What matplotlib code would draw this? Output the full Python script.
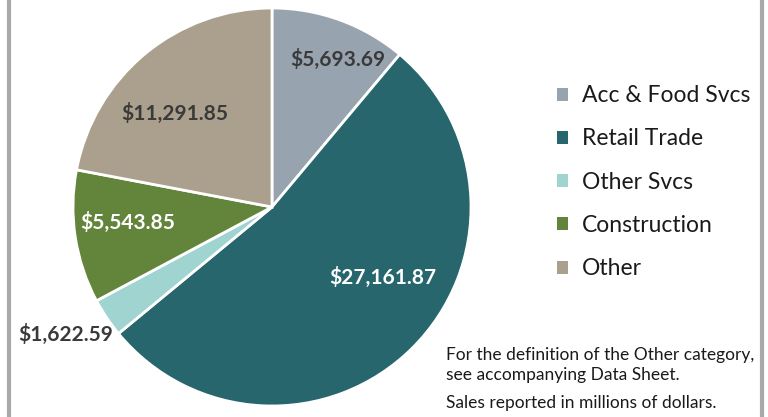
import numpy as np
import matplotlib
matplotlib.use("Agg")
import matplotlib.pyplot as plt
from matplotlib.patches import Patch

# data
categories = ["Acc & Food Svcs", "Retail Trade", "Other Svcs", "Construction", "Other"]
sales = [5693.69, 27161.87, 1622.59, 5543.85, 11291.85]
colors = ["#98a3b0", "#27666c", "#a0d4d0", "#63853b", "#aaa08d"]
label_colors = ["#3a3a3a", "white", "#3a3a3a", "white", "#3a3a3a"]
# label placement: fraction of radius, angle offset from wedge middle (deg)
label_dist = [0.81, 0.66, 1.22, 0.73, 0.68]
label_shift = [-4, 13, -2, -2.5, 6.5]

plt.rcParams['font.family'] = ['Lato', 'DejaVu Sans']

W, H = 768, 417
fig = plt.figure(figsize=(7.68, 4.17), dpi=100)
ax = fig.add_axes([0, 0, 1, 1])

cx, cy, r = 272, H - 207, 199
wedges, _ = ax.pie(sales, colors=colors, startangle=90, counterclock=False,
                   center=(cx, cy), radius=r, frame=True,
                   wedgeprops=dict(edgecolor='white', linewidth=2))
ax.set_xlim(0, W)
ax.set_ylim(0, H)
ax.set_aspect('equal')
ax.axis('off')

for w, val, d, sh, c in zip(wedges, sales, label_dist, label_shift, label_colors):
    mid = np.deg2rad((w.theta1 + w.theta2) / 2 + sh)
    x = cx + d * r * np.cos(mid)
    y = cy + d * r * np.sin(mid)
    ax.text(x, y, f"${val:,.2f}", ha='center', va='center', color=c,
            fontsize=15, fontweight='bold')

handles = [Patch(facecolor=col, label=cat) for col, cat in zip(colors, categories)]
fig.legend(handles=handles, loc='upper left', bbox_to_anchor=(0.698, 0.845),
           frameon=False, fontsize=16.5, handlelength=0.5, handleheight=0.5,
           handletextpad=0.6, labelspacing=0.97, labelcolor='#1a1a1a')

fig.text(446 / W, 1 - 365 / H, "For the definition of the Other category,\nsee accompanying Data Sheet.",
         fontsize=12.5, color='#1a1a1a', va='center', linespacing=1.32)
fig.text(446 / W, 1 - 403 / H, "Sales reported in millions of dollars.",
         fontsize=12.5, color='#1a1a1a', va='center')

# frame edges of the original panel
ax.axvline(8.5, color='#a9a9a9', linewidth=3)
ax.axvline(761.5, color='#a9a9a9', linewidth=3)

fig.savefig("out.png", dpi=100)
